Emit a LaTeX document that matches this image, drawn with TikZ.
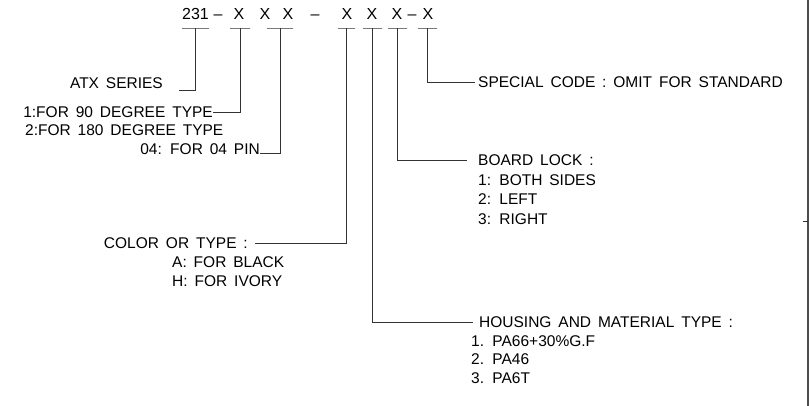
\documentclass[tikz,border=0pt]{standalone}
\usepackage{fontspec}
\setmainfont{Liberation Sans}[WordSpace=1.6]
\newfontfamily\codefont{Liberation Sans}

\tikzset{lead/.style={draw=black!80,line width=0.75pt}}
\tikzset{bar/.style={lead,inner sep=0pt,minimum height=0pt,minimum width=#1}}
\tikzset{lbl/.style={inner sep=0pt,text height=11pt,text depth=0pt,font=\fontsize{15.5}{18}\selectfont}}
\tikzset{codech/.style={inner sep=0pt,anchor=base,font=\codefont\fontsize{16}{18}\selectfont}}

\begin{document}
\begin{tikzpicture}[x=1pt,y=-1pt]
        \useasboundingbox (0,0) rectangle (810,406);
        % part number
        \foreach \ch/\px in {231/195.5,\textendash/218,X/239,X/265,X/288,\textendash/315,X/347,X/372,X/397,\textendash/412,X/428}
            \node[codech] (c\px) at (\px,20) {\ch};
        \node[bar=27pt] (u231) at (195.5,28) {};
        \node[bar=20pt] (uA) at (240,28) {};
        \node[bar=26pt] (uB) at (280,28) {};
        \node[bar=17pt] (uC) at (346.5,28) {};
        \node[bar=19pt] (uD) at (372.5,28) {};
        \node[bar=19pt] (uE) at (397.5,28) {};
        \node[bar=19pt] (uF) at (427.5,28) {};
        % left side
        \node[lbl,anchor=east] (atx) at (163,83) {ATX SERIES};
        \node[lbl,anchor=east] (deg90) at (213,112.5) {1:FOR 90 DEGREE TYPE};
        \node[lbl,anchor=west] (deg180) at (25,130.5) {2:FOR 180 DEGREE TYPE};
        \node[lbl,anchor=east] (pin) at (260,148.5) {04: FOR 04 PIN};
        \node[lbl,anchor=east] (color) at (248,243) {COLOR OR TYPE :};
        \node[lbl,anchor=west] (black) at (172,262) {A: FOR BLACK};
        \node[lbl,anchor=west] (ivory) at (172,281) {H: FOR IVORY};
        % right side
        \node[lbl,anchor=west] (special) at (478,82) {SPECIAL CODE : OMIT FOR STANDARD};
        \node[lbl,anchor=west] (lock) at (478,160) {BOARD LOCK :};
        \foreach \t [count=\i] in {1: BOTH SIDES,2: LEFT,3: RIGHT}
            \node[lbl,anchor=west] (lock\i) at (478,160+19.5*\i) {\t};
        \node[lbl,anchor=west] (housing) at (479,322) {HOUSING AND MATERIAL TYPE :};
        \foreach \t [count=\i] in {1. PA66+30\%G.F,2. PA46,3. PA6T}
            \node[lbl,anchor=west] (mat\i) at (471,322+18.5*\i) {\t};
        % leaders
        \draw[lead] (u231.center) |- ([xshift=16pt,yshift=-2pt]atx.base east);
        \draw[lead] (uA.center) |- (deg90.east);
        \draw[lead] (uB.center) |- ([yshift=1pt]pin.base east);
        \draw[lead] (uC.center) |- ([xshift=7pt]color.east);
        \draw[lead] (uD.center) |- ([xshift=-6pt]housing.west);
        \draw[lead] (uE.center) |- ([xshift=-11pt]lock.west);
        \draw[lead] (uF.center) |- ([xshift=-3pt]special.west);
        % sheet border
        \coordinate (rtop) at (808,0);
        \coordinate (rbot) at (808,406);
        \coordinate (rtick) at (808,221);
        \draw[line width=1.3pt,black!70] (rtop) -- (rbot);
        \draw[lead] (rtick) -- ++(-5,0);
\end{tikzpicture}
\end{document}
